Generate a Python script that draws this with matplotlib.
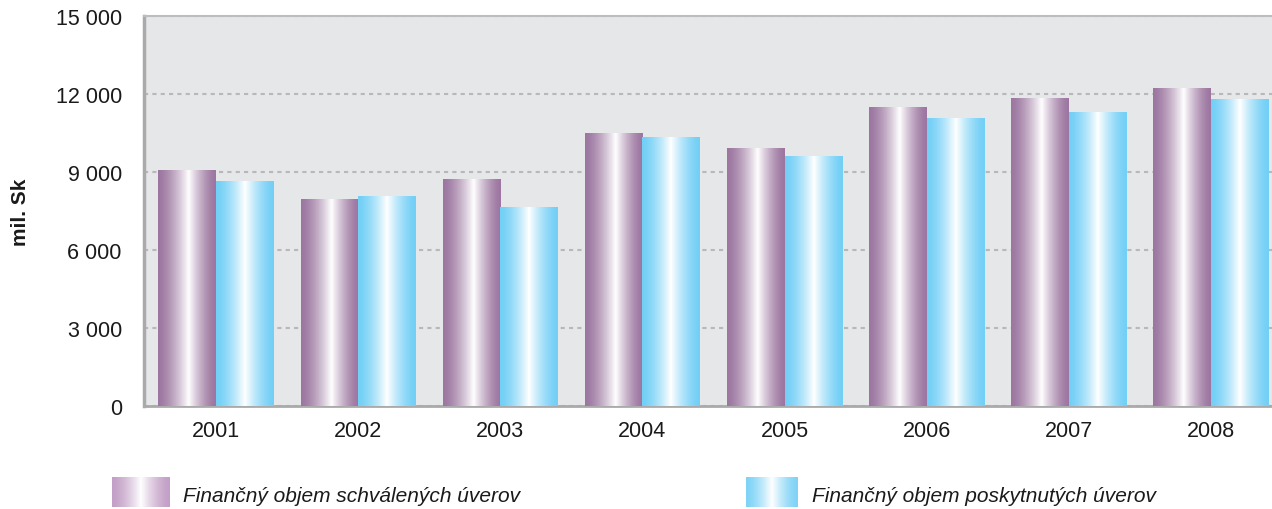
import numpy as np
import matplotlib
matplotlib.use("Agg")
import matplotlib.pyplot as plt
from matplotlib.colors import to_rgb

years = ["2001", "2002", "2003", "2004", "2005", "2006", "2007", "2008"]
schvalene = [9040, 7960, 8730, 10500, 9920, 11500, 11810, 12230]
poskytnute = [8650, 8040, 7650, 10310, 9580, 11040, 11270, 11770]
yticks = [0, 3000, 6000, 9000, 12000, 15000]
ytick_labels = ["0", "3 000", "6 000", "9 000", "12 000", "15 000"]
legend_labels = ["Finančný objem schválených úverov", "Finančný objem poskytnutých úverov"]
ylabel = "mil. Sk"

FONT = ["Liberation Sans", "DejaVu Sans"]
plt.rcParams["font.family"] = FONT

PURPLE = "#9c76a0"
BLUE = "#72cff6"


def grad(color, n=256, center=0.53, power=1.5):
    t = np.linspace(0, 1, n)
    d = np.where(t < center, (center - t) / center, (t - center) / (1 - center))
    w = (1 - d) ** power
    c = np.array(to_rgb(color))
    img = c[None, :] * (1 - w[:, None]) + w[:, None] * np.ones(3)[None, :]
    return img[None, :, :]


fig = plt.figure(figsize=(12.72, 5.10), dpi=100)
ax = fig.add_axes([144 / 1272, 103 / 510, 1 - 144 / 1272, 390 / 510])
ax.set_facecolor("#e6e7e9")

x = np.arange(len(years))
w = 0.405
b1 = ax.bar(x - w / 2, schvalene, width=w, color="none", zorder=3)
b2 = ax.bar(x + w / 2, poskytnute, width=w, color="none", zorder=3)

gp = grad(PURPLE)
gb = grad(BLUE, center=0.5)
for bars, g in ((b1, gp), (b2, gb)):
    for r in bars:
        x0, y0 = r.get_x(), r.get_y()
        ax.imshow(g, extent=(x0, x0 + r.get_width(), y0, y0 + r.get_height()),
                  aspect="auto", zorder=3, interpolation="bilinear")

ax.set_xlim(-0.507, 7.43)
ax.set_ylim(0, 15000)
ax.set_yticks(yticks)
ax.set_yticklabels(ytick_labels)
ax.set_xticks(x)
ax.set_xticklabels(years)
ax.tick_params(axis="both", length=0, labelsize=15.5, colors="#1a1a1a")
ax.tick_params(axis="y", pad=16)
ax.tick_params(axis="x", pad=10)

ax.yaxis.grid(True, color="#b8b8b8", linestyle=(0, (2, 2)), linewidth=1.5, zorder=1)
ax.set_axisbelow(True)
ax.spines["right"].set_visible(False)
ax.spines["top"].set_color("#bdbdbd")
ax.spines["top"].set_linewidth(1.5)
ax.spines["left"].set_color("#aaaaab")
ax.spines["left"].set_linewidth(2.5)
ax.spines["bottom"].set_color("#aaaaab")
ax.spines["bottom"].set_linewidth(2)

fig.text(20 / 1272, 1 - 212 / 510, ylabel, rotation=90, fontsize=15, fontweight="bold",
         ha="center", va="center", color="#1a1a1a")

# legend
for (x0, x1), g, lab in (((112, 169), grad("#c39fc7", center=0.5), legend_labels[0]),
                         ((746, 798), grad("#7fd3f7", center=0.5), legend_labels[1])):
    lax = fig.add_axes([x0 / 1272, 2 / 510, (x1 - x0) / 1272, 30 / 510])
    lax.imshow(g, aspect="auto", interpolation="bilinear")
    lax.axis("off")
    fig.text((x1 + 14) / 1272, 1 - 497 / 510, lab, fontsize=15, style="italic",
             ha="left", va="center", color="#1a1a1a")

fig.savefig("out.png", dpi=100, facecolor="white")
